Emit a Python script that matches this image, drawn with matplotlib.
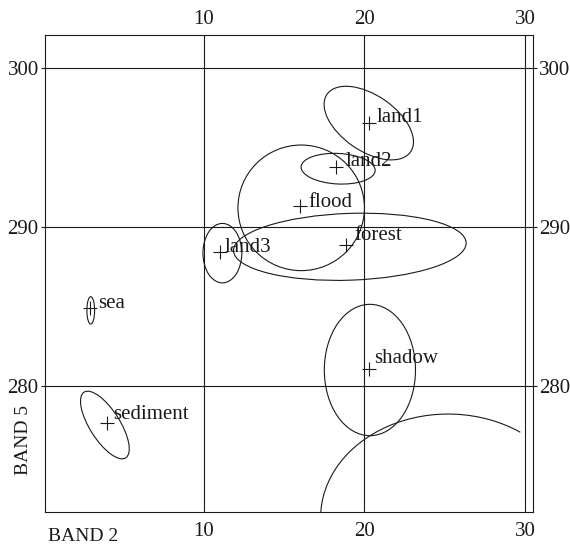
import matplotlib
matplotlib.use('Agg')
import matplotlib.pyplot as plt
from matplotlib.patches import Ellipse, Arc
from matplotlib.transforms import ScaledTranslation

# ---- data ----
classes = ['land1', 'land2', 'flood', 'forest', 'land3', 'sea', 'sediment', 'shadow']
mean_x = [20.31, 18.23, 15.98, 18.86, 11.00, 2.92, 3.96, 20.31]
mean_y = [296.54, 293.77, 291.34, 288.89, 288.47, 284.91, 277.71, 281.07]
ell_cx = [20.27, 18.36, 16.06, 19.09, 11.15, 2.95, 3.83, 20.34]
ell_cy = [296.56, 293.69, 291.23, 288.78, 288.38, 284.78, 277.57, 281.03]
ell_w = [6.34, 4.62, 7.88, 14.5, 2.42, 0.48, 4.88, 5.68]
ell_h = [3.50, 1.92, 7.90, 4.20, 3.74, 1.72, 1.88, 8.26]
ell_angle = [-35, -3, 0, 2, 0, 0, -58, 0]

# partial ellipse of an off-chart class
arc_cx, arc_cy, arc_w, arc_h = 25.21, 271.75, 15.88, 13.02
arc_theta = (50, 180)

x_ticks = [10, 20, 30]
y_ticks = [280, 290, 300]
x_label = 'BAND 2'
y_label = 'BAND 5'

# label offsets in points (layout)
label_off = [(5.5, 1.0), (6.7, 1.0), (6.2, -0.5), (6.0, 3.6), (3.6, 0.0),
             (5.5, 0.0), (4.7, 2.4), (3.2, 4.8)]

# ---- figure ----
plt.rcParams['font.family'] = ['Liberation Serif', 'DejaVu Serif']
fig = plt.figure(figsize=(5.70, 5.47), dpi=100)
ax = fig.add_axes([45 / 570, 1 - 512.3 / 547, (533 - 45) / 570, (512.3 - 35) / 547])
ax.set_xlim(0.1, 30.5)
ax.set_ylim(272.08, 302.1)

ink = '#1a1a1a'
for xv in x_ticks:
    ax.axvline(xv, color=ink, lw=0.8, zorder=1)
for yv in y_ticks:
    ax.axhline(yv, color=ink, lw=0.8, zorder=1)

for i, name in enumerate(classes):
    e = Ellipse((ell_cx[i], ell_cy[i]), ell_w[i], ell_h[i], angle=ell_angle[i],
                fill=False, edgecolor=ink, lw=0.8, zorder=2)
    ax.add_patch(e)
    ax.plot(mean_x[i], mean_y[i], marker='+', ms=10, mew=0.8, color=ink,
            linestyle='none', zorder=3)
    ax.annotate(name, (mean_x[i], mean_y[i]), xytext=label_off[i],
                textcoords='offset points', ha='left', va='baseline',
                fontsize=15, color=ink, zorder=4)

arc = Arc((arc_cx, arc_cy), arc_w, arc_h, theta1=arc_theta[0], theta2=arc_theta[1],
          edgecolor=ink, lw=0.8, zorder=2)
ax.add_patch(arc)

ax.set_xticks(x_ticks)
ax.set_yticks(y_ticks)
ax.tick_params(axis='x', which='both', top=True, labeltop=True, bottom=True,
               labelbottom=True, length=0, pad=7, labelsize=15, colors=ink)
ax.tick_params(axis='y', which='both', left=True, right=True, labelleft=True,
               labelright=True, length=3, width=0.8, pad=1.5, direction='out',
               labelsize=15, colors=ink)
shift = ScaledTranslation(0, -2.5 / 72, fig.dpi_scale_trans)
for t in ax.xaxis.get_major_ticks():
    t.label2.set_transform(t.label2.get_transform() + shift)
for s in ax.spines.values():
    s.set_linewidth(0.8)
    s.set_color(ink)

fig.text(48 / 570, 1 - 541 / 547, x_label, ha='left', va='baseline',
         fontsize=14, color=ink)
fig.text(24 / 570, 1 - 440 / 547, y_label, ha='center', va='center',
         rotation=90, fontsize=14, color=ink)

fig.savefig('out.png', dpi=100)
